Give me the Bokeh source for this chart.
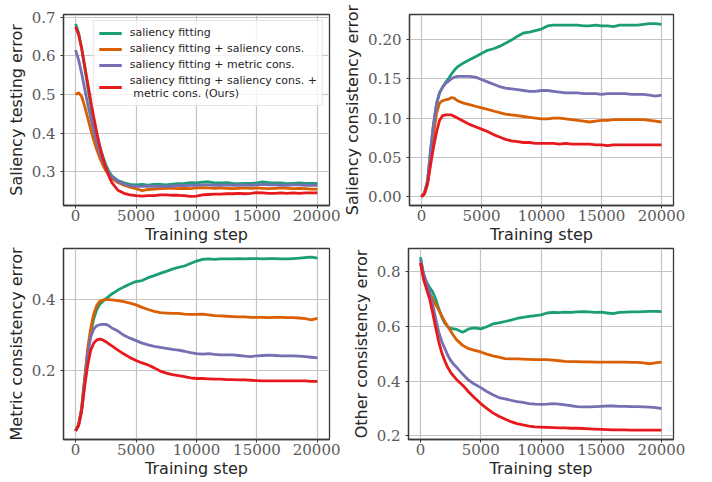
from bokeh.plotting import figure
from bokeh.layouts import column, row
from bokeh.models import Range1d, FixedTicker, PrintfTickFormatter
from bokeh.embed import file_html
from bokeh.resources import INLINE

steps = [0, 250, 500, 750, 1000, 1250, 1500, 1750, 2000, 2250, 2500, 2750, 3000,
         3500, 4000, 4500, 5000, 5500, 6000, 6500, 7000, 7500, 8000, 8500, 9000, 9500,
         10000, 10500, 11000, 11500, 12000, 12500, 13000, 13500, 14000, 14500, 15000,
         15500, 16000, 16500, 17000, 17500, 18000, 18500, 19000, 19500, 20000]

series_names = ["saliency fitting",
                "saliency fitting + saliency cons.",
                "saliency fitting + metric cons.",
                "saliency fitting + saliency cons. +\n metric cons. (Ours)"]
colors = ["#1b9e77", "#d95f02", "#7570b3", "#e8191c"]

# Panel 1: Saliency testing error
test_fit = [0.683, 0.660, 0.620, 0.570, 0.520, 0.472, 0.430, 0.395, 0.365, 0.340, 0.318, 0.301, 0.289,
            0.277, 0.271, 0.267, 0.266, 0.267, 0.265, 0.267, 0.267, 0.266, 0.268, 0.269, 0.270, 0.272,
            0.271, 0.273, 0.274, 0.271, 0.271, 0.272, 0.270, 0.269, 0.270, 0.270, 0.271,
            0.274, 0.272, 0.271, 0.271, 0.269, 0.270, 0.271, 0.270, 0.270, 0.270]
test_sal = [0.500, 0.505, 0.495, 0.470, 0.440, 0.410, 0.382, 0.357, 0.336, 0.318, 0.303, 0.292, 0.283,
            0.272, 0.265, 0.260, 0.256, 0.251, 0.254, 0.255, 0.256, 0.257, 0.257, 0.256, 0.257, 0.256,
            0.258, 0.259, 0.258, 0.257, 0.258, 0.257, 0.256, 0.257, 0.258, 0.257, 0.258,
            0.257, 0.256, 0.257, 0.258, 0.257, 0.256, 0.257, 0.256, 0.255, 0.255]
test_met = [0.615, 0.590, 0.555, 0.515, 0.476, 0.440, 0.406, 0.376, 0.350, 0.328, 0.310, 0.297, 0.287,
            0.275, 0.268, 0.264, 0.262, 0.262, 0.263, 0.262, 0.263, 0.262, 0.263, 0.264, 0.264, 0.265,
            0.265, 0.266, 0.266, 0.265, 0.265, 0.266, 0.265, 0.265, 0.266, 0.265, 0.266,
            0.267, 0.266, 0.266, 0.265, 0.265, 0.266, 0.266, 0.265, 0.265, 0.265]
test_ours = [0.675, 0.655, 0.620, 0.575, 0.530, 0.485, 0.442, 0.402, 0.366, 0.336, 0.310, 0.289, 0.272,
             0.252, 0.244, 0.240, 0.238, 0.237, 0.238, 0.238, 0.240, 0.240, 0.239, 0.239, 0.238, 0.236,
             0.237, 0.240, 0.241, 0.242, 0.242, 0.243, 0.243, 0.244, 0.243, 0.244, 0.246,
             0.245, 0.244, 0.244, 0.245, 0.244, 0.245, 0.244, 0.245, 0.245, 0.245]

# Panel 2: Saliency consistency error
scons_fit = [0.000, 0.005, 0.020, 0.058, 0.092, 0.118, 0.132, 0.139, 0.145, 0.150, 0.156, 0.161, 0.165,
             0.170, 0.174, 0.178, 0.182, 0.186, 0.188, 0.191, 0.195, 0.199, 0.204, 0.208, 0.209, 0.211,
             0.213, 0.217, 0.218, 0.218, 0.218, 0.218, 0.218, 0.217, 0.217, 0.218, 0.217,
             0.217, 0.216, 0.218, 0.218, 0.218, 0.218, 0.219, 0.220, 0.220, 0.219]
scons_sal = [0.000, 0.004, 0.017, 0.045, 0.078, 0.106, 0.119, 0.122, 0.123, 0.124, 0.126, 0.125, 0.122,
             0.119, 0.117, 0.115, 0.113, 0.111, 0.109, 0.107, 0.105, 0.104, 0.103, 0.102, 0.101, 0.100,
             0.099, 0.099, 0.100, 0.100, 0.099, 0.098, 0.097, 0.096, 0.095, 0.096, 0.097,
             0.097, 0.098, 0.098, 0.098, 0.098, 0.098, 0.098, 0.097, 0.096, 0.095]
scons_met = [0.000, 0.005, 0.020, 0.058, 0.092, 0.118, 0.132, 0.139, 0.144, 0.147, 0.150, 0.152, 0.153,
             0.153, 0.153, 0.152, 0.149, 0.146, 0.143, 0.140, 0.138, 0.137, 0.136, 0.135, 0.134, 0.134,
             0.135, 0.135, 0.134, 0.133, 0.132, 0.132, 0.132, 0.131, 0.131, 0.131, 0.130,
             0.131, 0.131, 0.131, 0.131, 0.130, 0.130, 0.130, 0.129, 0.128, 0.129]
scons_ours = [0.000, 0.004, 0.016, 0.040, 0.063, 0.082, 0.097, 0.103, 0.104, 0.104, 0.104, 0.102, 0.100,
              0.096, 0.092, 0.089, 0.086, 0.083, 0.079, 0.076, 0.073, 0.071, 0.070, 0.069, 0.069, 0.068,
              0.068, 0.068, 0.068, 0.067, 0.068, 0.067, 0.067, 0.067, 0.067, 0.066, 0.066,
              0.065, 0.066, 0.066, 0.066, 0.066, 0.066, 0.066, 0.066, 0.066, 0.066]

# Panel 3: Metric consistency error
mcons_fit = [0.030, 0.047, 0.092, 0.175, 0.250, 0.305, 0.347, 0.372, 0.388, 0.396, 0.403, 0.410, 0.417,
             0.428, 0.437, 0.445, 0.452, 0.455, 0.463, 0.469, 0.475, 0.481, 0.487, 0.492, 0.496, 0.503,
             0.510, 0.515, 0.516, 0.515, 0.516, 0.516, 0.516, 0.517, 0.516, 0.517, 0.517,
             0.516, 0.517, 0.517, 0.516, 0.516, 0.517, 0.518, 0.520, 0.521, 0.518]
mcons_sal = [0.030, 0.048, 0.095, 0.180, 0.262, 0.320, 0.360, 0.385, 0.396, 0.400, 0.401, 0.401, 0.400,
             0.398, 0.395, 0.391, 0.386, 0.379, 0.373, 0.368, 0.364, 0.363, 0.362, 0.362, 0.360, 0.359,
             0.359, 0.360, 0.358, 0.356, 0.355, 0.354, 0.353, 0.352, 0.352, 0.351, 0.351,
             0.351, 0.350, 0.351, 0.351, 0.350, 0.350, 0.349, 0.347, 0.344, 0.348]
mcons_met = [0.030, 0.046, 0.090, 0.170, 0.245, 0.295, 0.318, 0.327, 0.330, 0.331, 0.331, 0.327, 0.321,
             0.312, 0.300, 0.292, 0.285, 0.278, 0.273, 0.269, 0.266, 0.263, 0.260, 0.258, 0.255, 0.251,
             0.248, 0.247, 0.248, 0.246, 0.245, 0.245, 0.245, 0.243, 0.241, 0.240, 0.242,
             0.243, 0.244, 0.243, 0.242, 0.242, 0.242, 0.241, 0.240, 0.238, 0.236]
mcons_ours = [0.030, 0.045, 0.085, 0.155, 0.215, 0.258, 0.278, 0.287, 0.289, 0.287, 0.282, 0.276, 0.270,
              0.258, 0.247, 0.237, 0.229, 0.222, 0.216, 0.208, 0.199, 0.193, 0.189, 0.186, 0.183, 0.180,
              0.178, 0.178, 0.177, 0.176, 0.176, 0.175, 0.175, 0.174, 0.174, 0.173, 0.172,
              0.171, 0.171, 0.171, 0.171, 0.171, 0.171, 0.171, 0.171, 0.170, 0.170]

# Panel 4: Other consistency error
ocons_fit = [0.851, 0.790, 0.760, 0.742, 0.725, 0.700, 0.665, 0.635, 0.612, 0.598, 0.592, 0.590, 0.588,
             0.578, 0.590, 0.594, 0.590, 0.598, 0.608, 0.612, 0.617, 0.622, 0.628, 0.632, 0.636, 0.638,
             0.641, 0.648, 0.650, 0.649, 0.651, 0.650, 0.652, 0.653, 0.652, 0.650, 0.651,
             0.648, 0.646, 0.650, 0.651, 0.652, 0.652, 0.653, 0.654, 0.654, 0.653]
ocons_sal = [0.830, 0.780, 0.745, 0.720, 0.700, 0.680, 0.660, 0.638, 0.618, 0.600, 0.582, 0.565, 0.550,
             0.530, 0.518, 0.512, 0.506, 0.498, 0.492, 0.487, 0.482, 0.481, 0.481, 0.480, 0.479, 0.478,
             0.478, 0.478, 0.476, 0.474, 0.472, 0.471, 0.471, 0.470, 0.470, 0.469, 0.469,
             0.469, 0.469, 0.469, 0.469, 0.468, 0.468, 0.466, 0.463, 0.466, 0.469]
ocons_met = [0.840, 0.790, 0.758, 0.725, 0.680, 0.630, 0.580, 0.545, 0.520, 0.495, 0.475, 0.461, 0.450,
             0.425, 0.403, 0.388, 0.376, 0.362, 0.350, 0.340, 0.335, 0.330, 0.325, 0.322, 0.318, 0.316,
             0.315, 0.316, 0.318, 0.316, 0.313, 0.310, 0.307, 0.306, 0.306, 0.307, 0.308,
             0.309, 0.309, 0.308, 0.308, 0.307, 0.307, 0.306, 0.305, 0.303, 0.300]
ocons_ours = [0.830, 0.770, 0.735, 0.700, 0.650, 0.595, 0.545, 0.505, 0.475, 0.450, 0.432, 0.418, 0.405,
              0.385, 0.360, 0.338, 0.318, 0.300, 0.284, 0.272, 0.262, 0.252, 0.245, 0.240, 0.236, 0.233,
              0.232, 0.231, 0.230, 0.229, 0.229, 0.228, 0.228, 0.227, 0.226, 0.225, 0.224,
              0.223, 0.222, 0.222, 0.222, 0.221, 0.221, 0.221, 0.221, 0.221, 0.221]

x_ticks = [0, 5000, 10000, 15000, 20000]
x_label = "Training step"

TICK_FONT = "DejaVu Serif"
LABEL_FONT = "DejaVu Sans"


def make_fig(width, height, bl, br, bt, bb, yrange, yticks, yfmt, ylabel):
    p = figure(width=width, height=height, output_backend="svg", toolbar_location=None,
               x_range=Range1d(-1000, 21000), y_range=Range1d(*yrange),
               min_border_left=bl, min_border_right=br, min_border_top=bt, min_border_bottom=bb)
    p.background_fill_color = "white"
    p.border_fill_color = "white"
    p.outline_line_color = "#3a3a3a"
    p.outline_line_width = 1.3
    p.xgrid.ticker = FixedTicker(ticks=x_ticks)
    p.ygrid.ticker = FixedTicker(ticks=yticks)
    for g in (p.xgrid, p.ygrid):
        g.grid_line_color = "#c4c4c4"
        g.grid_line_width = 1.2
    p.xaxis.ticker = FixedTicker(ticks=x_ticks)
    p.yaxis.ticker = FixedTicker(ticks=yticks)
    p.yaxis.formatter = PrintfTickFormatter(format=yfmt)
    p.xaxis.formatter = PrintfTickFormatter(format="%d")
    for ax in (p.xaxis, p.yaxis):
        ax.axis_line_color = "#3a3a3a"
        ax.axis_line_width = 1.3
        ax.major_tick_line_color = "#3a3a3a"
        ax.major_tick_out = 3
        ax.major_tick_in = 0
        ax.minor_tick_line_color = None
        ax.major_label_text_font = TICK_FONT
        ax.major_label_text_font_size = "15px"
        ax.major_label_text_color = "#5a5a5a"
        ax.axis_label_text_font = LABEL_FONT
        ax.axis_label_text_font_size = "16px"
        ax.axis_label_text_font_style = "normal"
        ax.axis_label_text_color = "#262626"
    p.xaxis.major_label_standoff = 1
    p.xaxis.axis_label_standoff = 1
    p.yaxis.major_label_standoff = 5
    p.yaxis.axis_label_standoff = 3
    p.xaxis.axis_label = x_label
    p.yaxis.axis_label = ylabel
    return p


def add_lines(p, ys_list, with_legend=False):
    for ys, c, name in zip(ys_list, colors, series_names):
        if with_legend:
            p.line(steps, ys, line_color=c, line_width=2.8, legend_label=name)
        else:
            p.line(steps, ys, line_color=c, line_width=2.8)


p1 = make_fig(340, 246, 63, 11, 14, 40, (0.2125, 0.7075), [0.3, 0.4, 0.5, 0.6, 0.7], "%.1f",
              "Saliency testing error")
add_lines(p1, [test_fit, test_sal, test_met, test_ours], with_legend=True)
lg = p1.legend[0]
lg.location = "top_right"
lg.margin = 6
lg.padding = 5
lg.spacing = 3
lg.glyph_width = 23
lg.glyph_height = 12
lg.label_height = 12
lg.label_standoff = 8
lg.label_text_font = LABEL_FONT
lg.label_text_font_size = "11px"
lg.label_text_color = "#262626"
lg.border_line_color = "#cccccc"
lg.border_line_width = 1
lg.background_fill_alpha = 0.8

p2 = make_fig(372, 246, 68, 39, 14, 40, (-0.011, 0.2315), [0.0, 0.05, 0.10, 0.15, 0.20], "%.2f",
              "Saliency consistency error")
add_lines(p2, [scons_fit, scons_sal, scons_met, scons_ours])

p3 = make_fig(340, 236, 63, 11, 2, 43, (0.0055, 0.5455), [0.2, 0.4], "%.1f",
              "Metric consistency error")
add_lines(p3, [mcons_fit, mcons_sal, mcons_met, mcons_ours])

p4 = make_fig(372, 236, 68, 39, 2, 43, (0.187, 0.883), [0.2, 0.4, 0.6, 0.8], "%.1f",
              "Other consistency error")
add_lines(p4, [ocons_fit, ocons_sal, ocons_met, ocons_ours])

layout = column(row(p1, p2), row(p3, p4))

with open("out.html", "w") as f:
    f.write(file_html(layout, INLINE))
